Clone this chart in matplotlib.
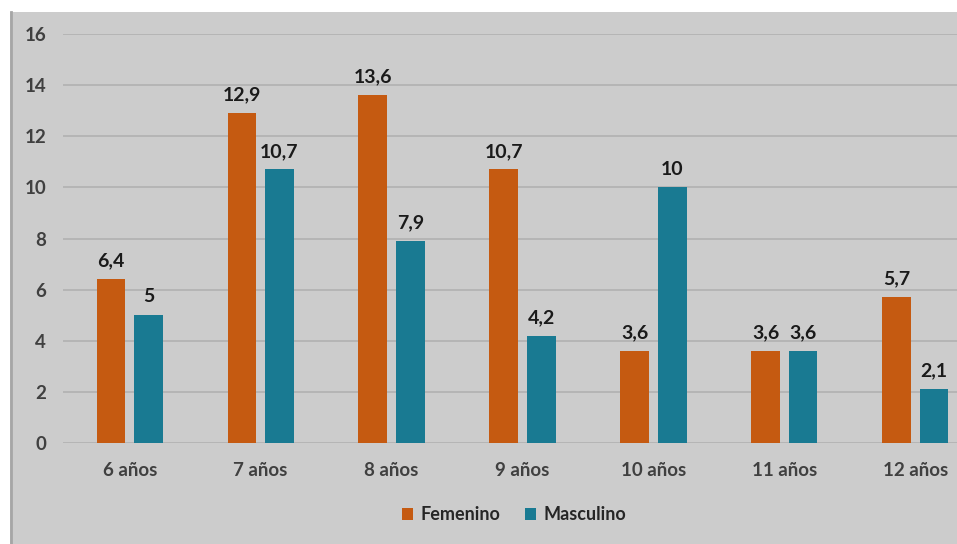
import matplotlib
matplotlib.use("Agg")
import matplotlib.pyplot as plt
import numpy as np
from matplotlib.patches import Rectangle
from matplotlib.lines import Line2D

categories = ["6 años", "7 años", "8 años", "9 años", "10 años", "11 años", "12 años"]
femenino = [6.4, 12.9, 13.6, 10.7, 3.6, 3.6, 5.7]
masculino = [5, 10.7, 7.9, 4.2, 10, 3.6, 2.1]
series_names = ["Femenino", "Masculino"]
yticks = [0, 2, 4, 6, 8, 10, 12, 14, 16]

c_fem = "#C55A11"
c_mas = "#197A92"
bg = "#CCCCCC"

plt.rcParams['font.family'] = ['Lato', 'DejaVu Sans']

W, H = 957, 544
fig = plt.figure(figsize=(W / 100, H / 100), dpi=100)
fig.patch.set_facecolor("white")

# grey panel
fig.patches.append(Rectangle((10 / W, 0), 1 - 10 / W, (H - 12) / H,
                             transform=fig.transFigure, facecolor=bg,
                             edgecolor="none", zorder=-5))
fig.lines.append(Line2D([10.5 / W, 10.5 / W], [0, (H - 12) / H],
                        transform=fig.transFigure, color="#A6A6A6", lw=2, zorder=-4))

left = 63 / W
right = 982 / W
bottom = (H - 443) / H
top = (H - 34) / H
ax = fig.add_axes([left, bottom, right - left, top - bottom])
ax.set_facecolor("none")

x = np.arange(len(categories))
bw = 0.22
off = 0.143
b1 = ax.bar(x - off, femenino, bw, color=c_fem, label=series_names[0], zorder=3)
b2 = ax.bar(x + off, masculino, bw, color=c_mas, label=series_names[1], zorder=3)

def fmt(v):
    s = ("%g" % v).replace(".", ",")
    return s

for bars, vals in ((b1, femenino), (b2, masculino)):
    for r, v in zip(bars, vals):
        ax.annotate(fmt(v), (r.get_x() + r.get_width() / 2, v),
                    xytext=(0, 7), textcoords="offset points",
                    ha="center", va="bottom", fontsize=14, fontweight="bold",
                    color="#1a1a1a")

ax.set_xlim(-0.51, len(categories) - 0.49)
ax.set_ylim(0, 16)
ax.set_yticks(yticks)
ax.set_yticklabels([str(t) for t in yticks])
ax.set_xticks(x)
ax.set_xticklabels(categories)
ax.yaxis.grid(True, color="#B3B3B3", lw=1.3, zorder=0)
ax.set_axisbelow(True)
for s in ax.spines.values():
    s.set_visible(False)
ax.tick_params(axis="both", length=0, labelsize=13.5, labelcolor="#404040")
ax.tick_params(axis="y", pad=12)
ax.tick_params(axis="x", pad=14)
for lab in ax.get_xticklabels() + ax.get_yticklabels():
    lab.set_fontweight("bold")

leg = fig.legend(handles=[b1, b2], labels=series_names, loc="center",
                 bbox_to_anchor=(514 / W, (H - 515) / H), ncol=2, frameon=False,
                 fontsize=13, handlelength=0.6, handleheight=0.6,
                 handletextpad=0.4, columnspacing=1.4)
for t in leg.get_texts():
    t.set_color("#262626")
    t.set_fontweight("bold")

fig.savefig("out.png", dpi=100, facecolor=fig.get_facecolor())
